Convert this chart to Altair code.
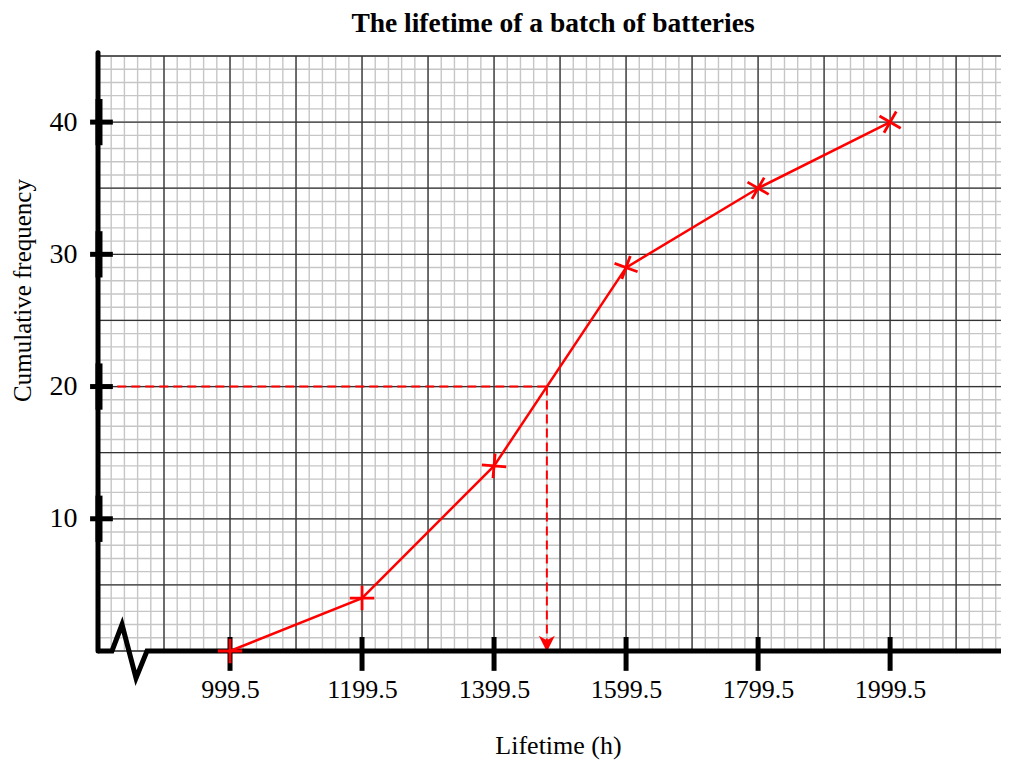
import altair as alt
import pandas as pd

# ---- data ----
lifetime = [999.5, 1199.5, 1399.5, 1599.5, 1799.5, 1999.5]
cum_freq = [0, 4, 14, 29, 35, 40]
marker_angle = [0, 0, 5, 20, 30, 30]
median_x = 1479.5
median_y = 20
y_ticks = [10, 20, 30, 40]
title_text = "The lifetime of a batch of batteries"

# axis ranges / grid spacing
x_lo, x_hi = 799.5, 2167.5
y_lo, y_hi = 0, 45
minor_x_step, major_x_step = 20, 100
minor_y_step, major_y_step = 1, 5

# axis-break zigzag on the x axis
zig_x = [799.5, 820.7, 835.9, 857.1, 873.7, x_hi]
zig_y = [0, 0, 2.0, -2.05, 0, 0]

FONT = "Liberation Serif"
W, H = 903, 595

xs = alt.Scale(domain=[x_lo, x_hi], nice=False, zero=False)
ys = alt.Scale(domain=[y_lo, y_hi], nice=False, zero=False)

xaxis = alt.Axis(values=lifetime, format=".1f", grid=False, domain=False, ticks=False,
                 tickSize=0, labelPadding=25, labelFontSize=26, labelFont=FONT,
                 labelColor="black", title="Lifetime (h)", titleFont=FONT,
                 titleFontSize=26, titleFontWeight="normal", titleColor="black",
                 titleX=460, titleY=94, titleBaseline="middle", titleAnchor="middle")
yaxis = alt.Axis(values=y_ticks, grid=False, domain=False, ticks=False, tickSize=0,
                 labelPadding=21, labelFontSize=28, labelFont=FONT, labelColor="black",
                 title="Cumulative frequency", titleFont=FONT, titleFontSize=25,
                 titleFontWeight="normal", titleColor="black", titleAngle=-90,
                 titleX=-76, titleY=234, titleBaseline="middle", titleAlign="center")


def X(f="x"):
    return alt.X(f"{f}:Q", scale=xs, axis=xaxis)


def Y(f="y"):
    return alt.Y(f"{f}:Q", scale=ys, axis=yaxis)


n_minor_x = int((x_hi - x_lo) // minor_x_step)
minor_vx = pd.DataFrame({"x": [x_lo + minor_x_step * k for k in range(n_minor_x + 1)]})
major_vx = pd.DataFrame({"x": [v for v in minor_vx["x"] if (v - x_lo) % major_x_step == 0]})
minor_hy = pd.DataFrame({"y": list(range(y_lo, y_hi + 1, minor_y_step))})
major_hy = pd.DataFrame({"y": list(range(y_lo, y_hi + 1, major_y_step))})

grid_minor_v = alt.Chart(minor_vx).mark_rule(color="#c6c6c6", strokeWidth=1.4).encode(x=X())
grid_minor_h = alt.Chart(minor_hy).mark_rule(color="#c6c6c6", strokeWidth=1.4).encode(y=Y())
grid_major_v = alt.Chart(major_vx).mark_rule(color="#333333", strokeWidth=1.3).encode(x=X())
grid_major_h = alt.Chart(major_hy).mark_rule(color="#333333", strokeWidth=1.3).encode(y=Y())

# dashed median construction
dash_h = alt.Chart(pd.DataFrame({"x": [x_lo + 8], "x2": [median_x], "y": [median_y]})).mark_rule(
    color="red", strokeWidth=2, strokeDash=[9, 5]).encode(x=X(), x2="x2:Q", y=Y())
dash_v = alt.Chart(pd.DataFrame({"x": [median_x], "y": [median_y], "y2": [0.8]})).mark_rule(
    color="red", strokeWidth=2, strokeDash=[9, 5]).encode(x=X(), y=Y(), y2="y2:Q")
arrow = alt.Chart(pd.DataFrame({"x": [median_x], "y": [0.55]})).mark_point(
    shape="M0,1L-1,-1L0,-0.45L1,-1Z", size=256, filled=True, color="red", opacity=1,
    strokeWidth=0).encode(x=X(), y=Y())

# black axes
axis_df = pd.DataFrame({"x": zig_x, "y": zig_y, "i": list(range(len(zig_x)))})
bottom_axis = alt.Chart(axis_df).mark_line(color="black", strokeWidth=5, strokeJoin="miter").encode(
    x=X(), y=Y(), order="i:O")
left_axis = alt.Chart(pd.DataFrame({"x": [x_lo], "y": [0], "y2": [45.25]})).mark_rule(
    color="black", strokeWidth=5, strokeCap="round").encode(x=X(), y=Y(), y2="y2:Q")
ytick_h = alt.Chart(pd.DataFrame({"y": y_ticks, "x": [x_lo - 12] * 4, "x2": [x_lo + 22.5] * 4})).mark_rule(
    color="black", strokeWidth=5).encode(x=X(), x2="x2:Q", y=Y())
ytick_v = alt.Chart(pd.DataFrame({"x": [x_lo + 1.5] * 4, "y": [v - 1.75 for v in y_ticks],
                                  "y2": [v + 1.75 for v in y_ticks]})).mark_rule(
    color="black", strokeWidth=7).encode(x=X(), y=Y(), y2="y2:Q")
xtick = alt.Chart(pd.DataFrame({"x": lifetime, "y": [-1.5] * 6, "y2": [1.06] * 6})).mark_rule(
    color="black", strokeWidth=5).encode(x=X(), y=Y(), y2="y2:Q")

# ogive
ogive_df = pd.DataFrame({"x": lifetime, "y": cum_freq, "a": marker_angle})
ogive = alt.Chart(ogive_df).mark_line(color="red", strokeWidth=2.5).encode(x=X(), y=Y())
markers = alt.Chart(ogive_df).mark_point(
    shape="M-1,0L1,0M0,-1L0,1", size=600, color="red", strokeWidth=2.8, opacity=1, filled=False
).encode(x=X(), y=Y(), angle=alt.Angle("a:Q", scale=None))

# chart title as a text mark placed above the plot area
title = alt.Chart(pd.DataFrame({"t": [title_text]})).mark_text(
    font=FONT, fontSize=27.5, fontWeight="bold", color="black", align="center",
    baseline="alphabetic").encode(text="t:N", x=alt.value(455), y=alt.value(-24))

chart = alt.layer(
    grid_minor_v, grid_minor_h, grid_major_v, grid_major_h,
    dash_h, dash_v, arrow,
    bottom_axis, left_axis, ytick_h, ytick_v, xtick,
    ogive, markers, title,
).properties(
    width=W, height=H,
    autosize=alt.AutoSizeParams(type="none"),
    padding={"left": 90, "top": 48, "right": 0, "bottom": 112},
).configure_view(stroke=None).configure(background="white")

chart.save("out.html", embed_options={"renderer": "svg", "actions": False})
